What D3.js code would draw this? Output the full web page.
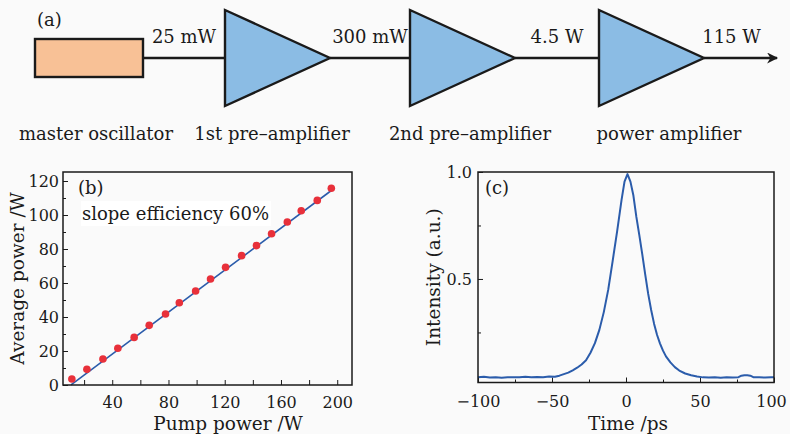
<!DOCTYPE html>
<html>
<head>
<meta charset="utf-8">
<script src="https://cdn.jsdelivr.net/npm/d3@7/dist/d3.min.js"></script>
<style>
  body { margin: 0; background: #fafafa; }
  svg { display: block; font-family: "DejaVu Serif", serif; }
</style>
</head>
<body>
<div id="chart"></div>
<script>
// (a) amplifier chain
const stageNames = ["master oscillator", "1st pre\u2013amplifier", "2nd pre\u2013amplifier", "power amplifier"];
const stagePowers = ["25 mW", "300 mW", "4.5 W", "115 W"];

// (b) output vs pump power
const pumpPower = [11.3, 22, 33.4, 44, 55.6, 66.3, 77.9, 87.7, 99.3, 109.9, 120.6, 132, 142.6, 153.3, 164.5, 174.4, 185.8, 195.8];
const avgPower = [3.5, 9.2, 15.3, 21.6, 28, 35.1, 41.8, 48.4, 55.3, 62.4, 69.2, 76.1, 82, 89, 95.9, 102.5, 108.6, 115.7];
const fitSlope = 0.618;
const fitIntercept = -6.6;
const fitRange = [10.7, 197];
const pumpTicks = [40, 80, 120, 160, 200];
const powerTicks = [0, 20, 40, 60, 80, 100, 120];

// (c) pulse trace
const time = [-100, -96, -92, -88, -84, -80, -76, -72, -68, -64, -60, -56, -52, -48, -45, -42, -39, -36, -33, -30,
  -27, -24, -21, -18, -15, -12, -9, -6, -3, -1, 1, 3, 5, 7, 9, 11, 13, 15, 17, 19, 21, 23, 25, 27, 30, 33, 36,
  40, 44, 48, 52, 56, 60, 64, 68, 72, 76, 78, 80, 82, 84, 86, 90, 94, 98, 100];
const intensity = [0.040, 0.043, 0.039, 0.041, 0.038, 0.040, 0.041, 0.040, 0.043, 0.041, 0.042, 0.041, 0.044, 0.043,
  0.048, 0.055, 0.062, 0.073, 0.085, 0.100, 0.120, 0.155, 0.200, 0.262, 0.345, 0.450, 0.585, 0.722, 0.870, 0.955,
  0.990, 0.955, 0.890, 0.790, 0.705, 0.615, 0.520, 0.430, 0.355, 0.290, 0.238, 0.198, 0.165, 0.138, 0.110, 0.088,
  0.072, 0.058, 0.050, 0.044, 0.040, 0.039, 0.041, 0.038, 0.040, 0.039, 0.041, 0.048, 0.050, 0.050, 0.048, 0.041,
  0.040, 0.039, 0.041, 0.040];
const timeTicks = [-100, -50, 0, 50, 100];
const intensityTicks = [0.5, 1.0];

const width = 790, height = 434;
const ink = "#1a1a1a";
const blue = "#2b5cab";
const fs = 18;      // labels
const tickFs = 16;  // tick numbers

const svg = d3.select("#chart").append("svg")
  .attr("width", width)
  .attr("height", height);

svg.append("defs").append("marker")
  .attr("id", "arrow")
  .attr("viewBox", "0 0 10 10")
  .attr("refX", 9).attr("refY", 5)
  .attr("markerWidth", 13).attr("markerHeight", 11)
  .attr("markerUnits", "userSpaceOnUse")
  .attr("orient", "auto")
  .append("path")
  .attr("d", "M0,0 L10,5 L0,10 L3,5 Z")
  .attr("fill", ink);

// ---------- (a) ----------
const lineY = 58;
const box = { x0: 35, x1: 143, y0: 39, y1: 77 };
const triLeft = [225, 410, 599];
const triW = 105, triTop = 10, triBottom = 106;
const labelX = [96, 272, 470, 669];

const diag = svg.append("g");

diag.append("text").attr("x", 37).attr("y", 26).attr("font-size", fs).attr("fill", ink).text("(a)");

// connecting lines
const segs = [[box.x1, triLeft[0]], [triLeft[0] + triW, triLeft[1]], [triLeft[1] + triW, triLeft[2]], [triLeft[2] + triW, 777]];
diag.selectAll("line.seg")
  .data(segs)
  .enter().append("line")
  .attr("class", "seg")
  .attr("x1", d => d[0]).attr("x2", d => d[1])
  .attr("y1", lineY).attr("y2", lineY)
  .attr("stroke", ink).attr("stroke-width", 2.4)
  .attr("marker-end", (d, i) => i === segs.length - 1 ? "url(#arrow)" : null);

diag.append("rect")
  .attr("x", box.x0).attr("y", box.y0)
  .attr("width", box.x1 - box.x0).attr("height", box.y1 - box.y0)
  .attr("fill", "#f8c196").attr("stroke", ink).attr("stroke-width", 2.4);

diag.selectAll("path.amp")
  .data(triLeft)
  .enter().append("path")
  .attr("class", "amp")
  .attr("d", x => `M${x},${triTop} L${x + triW},${lineY} L${x},${triBottom} Z`)
  .attr("fill", "#8bbce4").attr("stroke", ink).attr("stroke-width", 2.4)
  .attr("stroke-linejoin", "miter");

diag.selectAll("text.pw")
  .data(stagePowers)
  .enter().append("text")
  .attr("class", "pw")
  .attr("x", (d, i) => (segs[i][0] + segs[i][1]) / 2 - (i === 3 ? 9 : 0))
  .attr("y", 43)
  .attr("text-anchor", "middle")
  .attr("font-size", fs)
  .attr("fill", ink)
  .text(d => d);

diag.selectAll("text.stage")
  .data(stageNames)
  .enter().append("text")
  .attr("class", "stage")
  .attr("x", (d, i) => labelX[i])
  .attr("y", 140)
  .attr("text-anchor", "middle")
  .attr("font-size", fs)
  .attr("fill", ink)
  .text(d => d);

// ---------- helpers ----------
function styleAxis(g) {
  g.select(".domain").remove();
  g.selectAll("line").attr("stroke", ink).attr("stroke-width", 1);
  g.selectAll("text").attr("font-family", "DejaVu Serif").attr("font-size", tickFs).attr("fill", ink);
}

// ---------- (b) ----------
const xb = d3.scaleLinear().domain([5, 210.5]).range([63, 352]);
const yb = d3.scaleLinear().domain([0, 125.3]).range([385, 172]);
const gb = svg.append("g");

gb.append("g").attr("transform", `translate(0,${yb.range()[0]})`)
  .call(d3.axisBottom(xb).tickValues(d3.range(20, 201, 20)).tickSize(-5).tickFormat(""))
  .call(styleAxis);
gb.append("g").attr("transform", `translate(0,${yb.range()[0]})`)
  .call(d3.axisBottom(xb).tickValues(pumpTicks).tickSize(-5).tickPadding(12))
  .call(styleAxis)
  .call(g => g.selectAll("line").remove());
gb.append("g").attr("transform", `translate(${xb.range()[0]},0)`)
  .call(d3.axisLeft(yb).tickValues(d3.range(10, 121, 20)).tickSize(-3).tickFormat(""))
  .call(styleAxis);
gb.append("g").attr("transform", `translate(${xb.range()[0]},0)`)
  .call(d3.axisLeft(yb).tickValues(powerTicks).tickSize(-5).tickPadding(4))
  .call(styleAxis);

gb.append("rect")
  .attr("x", 81).attr("y", 201).attr("width", 190).attr("height", 25)
  .attr("fill", "#ffffff");

gb.append("line")
  .attr("x1", xb(fitRange[0])).attr("y1", yb(fitSlope * fitRange[0] + fitIntercept))
  .attr("x2", xb(fitRange[1])).attr("y2", yb(fitSlope * fitRange[1] + fitIntercept))
  .attr("stroke", blue).attr("stroke-width", 1.6);

gb.selectAll("circle")
  .data(pumpPower)
  .enter().append("circle")
  .attr("cx", d => xb(d))
  .attr("cy", (d, i) => yb(avgPower[i]))
  .attr("r", 3.8)
  .attr("fill", "#e8303a");

gb.append("rect")
  .attr("x", xb.range()[0]).attr("y", yb.range()[1])
  .attr("width", xb.range()[1] - xb.range()[0]).attr("height", yb.range()[0] - yb.range()[1])
  .attr("fill", "none").attr("stroke", ink).attr("stroke-width", 1.5);

gb.append("text").attr("x", 78).attr("y", 194).attr("font-size", fs).attr("fill", ink).text("(b)");
gb.append("text").attr("x", 82).attr("y", 220).attr("font-size", fs).attr("fill", ink).text("slope efficiency 60%");

gb.append("text")
  .attr("transform", `translate(24,${(yb.range()[0] + yb.range()[1]) / 2}) rotate(-90)`)
  .attr("text-anchor", "middle").attr("font-size", 18.5).attr("fill", ink)
  .text("Average power /W");
gb.append("text")
  .attr("x", 228).attr("y", 430)
  .attr("text-anchor", "middle").attr("font-size", 18.5).attr("fill", ink)
  .text("Pump power /W");

// ---------- (c) ----------
const xc = d3.scaleLinear().domain([-100, 100]).range([478, 774]);
const yc = d3.scaleLinear().domain([0.016, 1.0]).range([382.5, 172]);
const gc = svg.append("g");

gc.append("g").attr("transform", `translate(0,${yc.range()[0]})`)
  .call(d3.axisBottom(xc).tickValues([-75, -25, 25, 75]).tickSize(-3).tickFormat(""))
  .call(styleAxis);
gc.append("g").attr("transform", `translate(0,${yc.range()[0]})`)
  .call(d3.axisBottom(xc).tickValues(timeTicks).tickSize(-5).tickPadding(13)
    .tickFormat(d => d < 0 ? "\u2212" + Math.abs(d) : d))
  .call(styleAxis)
  .call(g => g.selectAll(".tick:last-of-type text").attr("dx", -3));
gc.append("g").attr("transform", `translate(${xc.range()[0]},0)`)
  .call(d3.axisLeft(yc).tickValues([0.25, 0.75]).tickSize(-3).tickFormat(""))
  .call(styleAxis);
gc.append("g").attr("transform", `translate(${xc.range()[0]},0)`)
  .call(d3.axisLeft(yc).tickValues(intensityTicks).tickSize(-5).tickPadding(6).tickFormat(d3.format(".1f")))
  .call(styleAxis);

gc.append("path")
  .datum(time.map((t, i) => [t, intensity[i]]))
  .attr("d", d3.line().x(d => xc(d[0])).y(d => yc(d[1])))
  .attr("fill", "none").attr("stroke", blue).attr("stroke-width", 2)
  .attr("stroke-linejoin", "round");

gc.append("rect")
  .attr("x", xc.range()[0]).attr("y", yc.range()[1])
  .attr("width", xc.range()[1] - xc.range()[0]).attr("height", yc.range()[0] - yc.range()[1])
  .attr("fill", "none").attr("stroke", ink).attr("stroke-width", 1.5);

gc.append("text").attr("x", 485).attr("y", 194).attr("font-size", fs).attr("fill", ink).text("(c)");

gc.append("text")
  .attr("transform", `translate(440,${(yc.range()[0] + yc.range()[1]) / 2}) rotate(-90)`)
  .attr("text-anchor", "middle").attr("font-size", 18.5).attr("fill", ink)
  .text("Intensity (a.u.)");
gc.append("text")
  .attr("x", 628).attr("y", 430)
  .attr("text-anchor", "middle").attr("font-size", 18.5).attr("fill", ink)
  .text("Time /ps");
</script>
</body>
</html>
